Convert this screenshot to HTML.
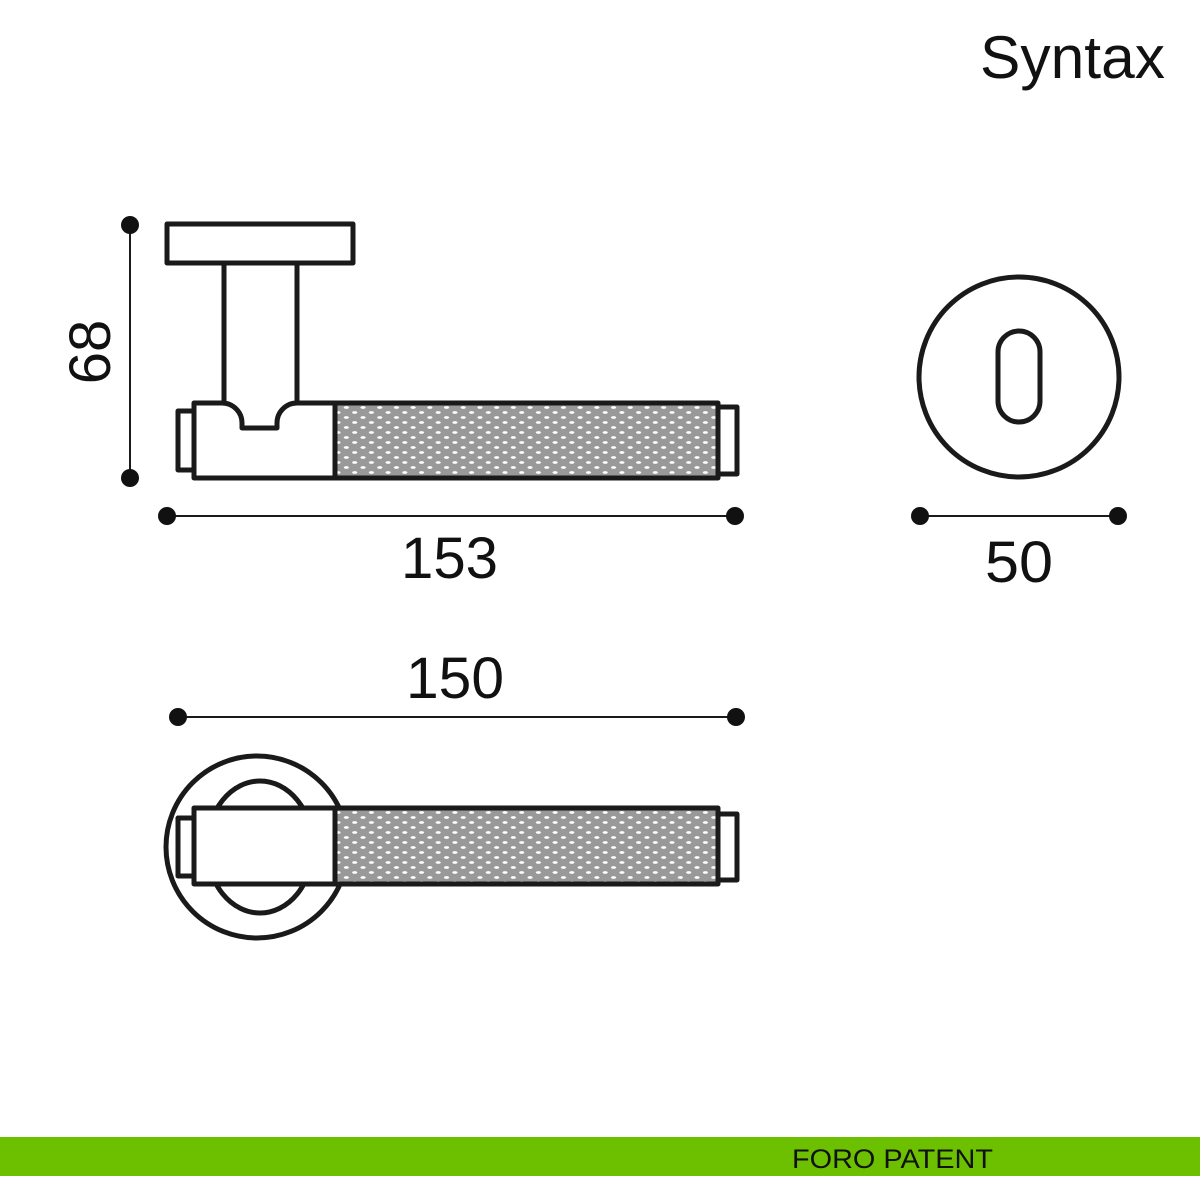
<!DOCTYPE html>
<html><head><style>
html,body{margin:0;padding:0;background:#fff;width:1200px;height:1200px;overflow:hidden}
svg{display:block}
text{font-family:"Liberation Sans",sans-serif;fill:#111}
</style></head><body>
<svg width="1200" height="1200" viewBox="0 0 1200 1200">
<defs>
<pattern id="kn" width="16.7" height="10" patternUnits="userSpaceOnUse">
<rect width="16.7" height="10" fill="#999"/>
<ellipse cx="4" cy="2.5" rx="2.6" ry="1.4" fill="#fff"/>
<ellipse cx="12.35" cy="7.5" rx="2.6" ry="1.4" fill="#fff"/>
</pattern>
</defs>
<text x="980" y="78" font-size="60" textLength="185" lengthAdjust="spacingAndGlyphs">Syntax</text>
<g fill="none" stroke="#1a1a1a" stroke-width="5" stroke-linejoin="round">
<rect x="167" y="224" width="186" height="39" fill="#fff"/>
<line x1="224" y1="263" x2="224" y2="403"/>
<line x1="297" y1="263" x2="297" y2="403"/>
<rect x="178" y="411" width="16" height="59" fill="#fff"/>
<path d="M194 403 H222 A20 20 0 0 1 242 423 V428 H277 V423 A20 20 0 0 1 297 403 H335 V478 H194 Z" fill="#fff"/>
<rect x="335" y="403" width="383" height="75" fill="url(#kn)"/>
<rect x="718" y="407" width="19" height="67" fill="#fff"/>
<circle cx="257" cy="847" r="91"/>
<ellipse cx="260" cy="847" rx="53" ry="66"/>
<rect x="178" y="818" width="16" height="58" fill="#fff"/>
<rect x="194" y="808" width="141" height="76" fill="#fff"/>
<rect x="335" y="808" width="383" height="76" fill="url(#kn)"/>
<rect x="718" y="814" width="19" height="66" fill="#fff"/>
<circle cx="1019" cy="377" r="100"/>
<rect x="998" y="331" width="42" height="91" rx="21"/>
</g>
<g stroke="#1a1a1a" stroke-width="2">
<line x1="130" y1="225" x2="130" y2="478"/>
<line x1="167" y1="516" x2="735" y2="516"/>
<line x1="920" y1="516" x2="1118" y2="516"/>
<line x1="178" y1="717" x2="736" y2="717"/>
</g>
<g fill="#111">
<circle cx="130" cy="225" r="9"/><circle cx="130" cy="478" r="9"/>
<circle cx="167" cy="516" r="9"/><circle cx="735" cy="516" r="9"/>
<circle cx="920" cy="516" r="9"/><circle cx="1118" cy="516" r="9"/>
<circle cx="178" cy="717" r="9"/><circle cx="736" cy="717" r="9"/>
</g>
<text x="401" y="578" font-size="58" textLength="97" lengthAdjust="spacingAndGlyphs">153</text>
<text x="985" y="582" font-size="58" textLength="68" lengthAdjust="spacingAndGlyphs">50</text>
<text x="406" y="698" font-size="58" textLength="98" lengthAdjust="spacingAndGlyphs">150</text>
<text transform="translate(110,352) rotate(-90)" font-size="58" text-anchor="middle">68</text>
<rect x="0" y="1137" width="1200" height="39" fill="#6cc000"/>
<text x="792" y="1168" font-size="27" textLength="201" lengthAdjust="spacingAndGlyphs">FORO PATENT</text>
</svg>
</body></html>
